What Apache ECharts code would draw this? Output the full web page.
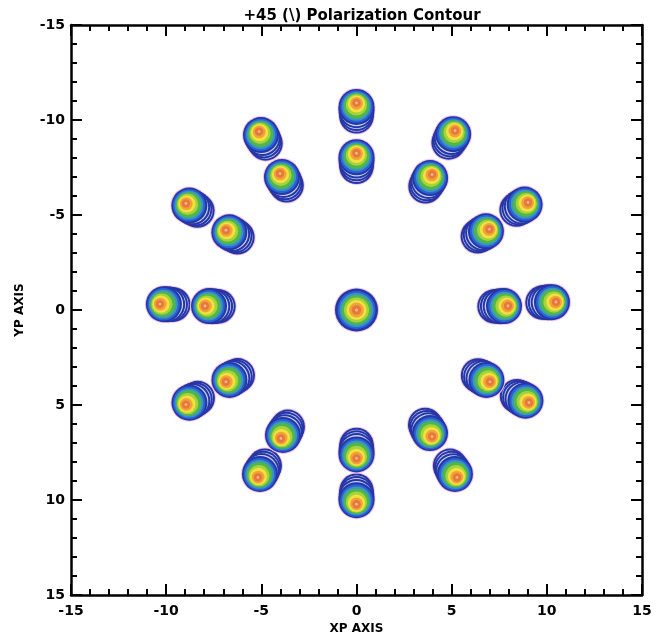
<!DOCTYPE html>
<html>
<head>
<meta charset="utf-8">
<script src="https://cdn.jsdelivr.net/npm/echarts@6/dist/echarts.min.js"></script>
<style>html,body{margin:0;padding:0;background:#fff}#c{width:668px;height:640px}</style>
</head>
<body>
<div id="c"></div>
<script>
// Beam peak positions (XP, YP)
const outerX = [0.0, 5.18, 9.01, 10.48, 9.06, 5.28, 0.0, -5.18, -8.96, -10.33, -8.96, -5.12];
const outerY = [-10.9, -9.44, -5.66, -0.42, 4.87, 8.81, 10.22, 8.81, 4.98, -0.31, -5.61, -9.39];
const innerX = [0.0, 3.97, 6.98, 7.96, 7.01, 3.97, 0.0, -3.97, -6.86, -7.96, -6.86, -4.02];
const innerY = [-8.25, -7.13, -4.25, -0.21, 3.78, 6.66, 7.81, 6.76, 3.78, -0.21, -4.2, -7.18];
const centerX = [0.0];
const centerY = [0.0];
const xTicks = [-15, -10, -5, 0, 5, 10, 15];
const yTicks = [-15, -10, -5, 0, 5, 10, 15];

const beams = []
  .concat(outerX.map((x, i) => [x, outerY[i]]))
  .concat(innerX.map((x, i) => [x, innerY[i]]))
  .concat(centerX.map((x, i) => [x, centerY[i]]));

const NAVY = '#2536a6';
const GAP = '#c9d2f4';
const HALO = '#f4c4e8';
const SPOT_LAYERS = [
  {r: 18.2, off: 13.5, fill: HALO},
  {r: 18.8, off: 9, fill: HALO},
  {r: 19, off: 4, fill: HALO},
  {r: 17.2, off: 13.5, fill: NAVY},
  {r: 15.2, off: 13.5, fill: GAP},
  {r: 17.6, off: 10.5, fill: NAVY},
  {r: 15.6, off: 10.5, fill: GAP},
  {r: 18, off: 7.3, fill: NAVY},
  {r: 16, off: 7.3, fill: GAP},
  {r: 18, off: 4, fill: NAVY},
  {r: 16.2, off: 3.7, fill: '#2a62d4'},
  {r: 14.4, off: 3.4, fill: '#3a94cc'},
  {r: 12.8, off: 3.0, fill: '#4fb64a'},
  {r: 10.6, off: 2.0, fill: '#a5d33d'},
  {r: 8.6, off: 1.1, fill: '#f3e23d'},
  {r: 6.4, off: 0.4, fill: '#f1a33b'},
  {r: 4.2, off: 0, fill: '#e8783a'},
  {r: 1.4, off: 0, fill: '#f5b894'}
];
const CENTER_LAYERS = [
  {r: 22.5, off: 0, fill: HALO},
  {r: 21.5, off: 0, fill: NAVY},
  {r: 19, off: 0, fill: '#2a62d4'},
  {r: 17, off: 0, fill: '#3a94cc'},
  {r: 15, off: 0, fill: '#4fb64a'},
  {r: 12.5, off: 0, fill: '#a5d33d'},
  {r: 10, off: 0, fill: '#f3e23d'},
  {r: 7.5, off: 0, fill: '#f1a33b'},
  {r: 4.8, off: 0, fill: '#e8783a'},
  {r: 1.6, off: 0, fill: '#f5b894'}
];

function renderBeam(params, api) {
  const p = api.coord([api.value(0), api.value(1)]);
  const o = api.coord([0, 0]);
  let dx = o[0] - p[0], dy = o[1] - p[1];
  const L = Math.hypot(dx, dy);
  const isCenter = L < 1;
  if (isCenter) { dx = 0; dy = 0; } else { dx /= L; dy /= L; }
  const layers = isCenter ? CENTER_LAYERS : SPOT_LAYERS;
  return {
    type: 'group',
    children: layers.map(l => ({
      type: 'circle',
      shape: {cx: p[0] + dx * l.off, cy: p[1] + dy * l.off, r: l.r},
      style: {fill: l.fill}
    }))
  };
}

const FONT = 'DejaVu Sans';
const axisCommon = {
  type: 'value', min: -15, max: 15, interval: 5,
  axisLine: {show: true, onZero: false, lineStyle: {color: '#000', width: 2.5}},
  axisTick: {show: true, inside: true, length: 11, lineStyle: {color: '#000', width: 2}},
  minorTick: {show: true, splitNumber: 5, length: 6, lineStyle: {color: '#000', width: 2}},
  splitLine: {show: false},
  minorSplitLine: {show: false}
};
const labelStyle = {color: '#000', fontFamily: FONT, fontWeight: 'bold', fontSize: 14};

const chart = echarts.init(document.getElementById('c'), null, {renderer: 'canvas'});
chart.setOption({
  animation: false,
  backgroundColor: '#fff',
  title: {
    text: '+45 (\\) Polarization Contour',
    left: 357, textAlign: 'center', top: 4,
    textStyle: {color: '#000', fontFamily: FONT, fontWeight: 'bold', fontSize: 15}
  },
  grid: {left: 71, right: 26, top: 25, bottom: 43},
  xAxis: [
    Object.assign({}, axisCommon, {
      position: 'bottom',
      axisLabel: Object.assign({}, labelStyle, {margin: 9, customValues: xTicks}),
      name: 'XP AXIS', nameLocation: 'middle', nameGap: 28,
      nameTextStyle: {color: '#000', fontFamily: FONT, fontWeight: 'bold', fontSize: 12}
    }),
    Object.assign({}, axisCommon, {position: 'top', axisLabel: {show: false}})
  ],
  yAxis: [
    Object.assign({}, axisCommon, {
      position: 'left', inverse: true,
      axisLabel: Object.assign({}, labelStyle, {margin: 6, customValues: yTicks}),
      name: 'YP AXIS', nameLocation: 'middle', nameGap: 45,
      nameTextStyle: {color: '#000', fontFamily: FONT, fontWeight: 'bold', fontSize: 12}
    }),
    Object.assign({}, axisCommon, {position: 'right', inverse: true, axisLabel: {show: false}})
  ],
  series: [{
    type: 'custom',
    xAxisIndex: 0, yAxisIndex: 0,
    renderItem: renderBeam,
    encode: {x: 0, y: 1},
    data: beams,
    silent: true
  }]
});
</script>
</body>
</html>
